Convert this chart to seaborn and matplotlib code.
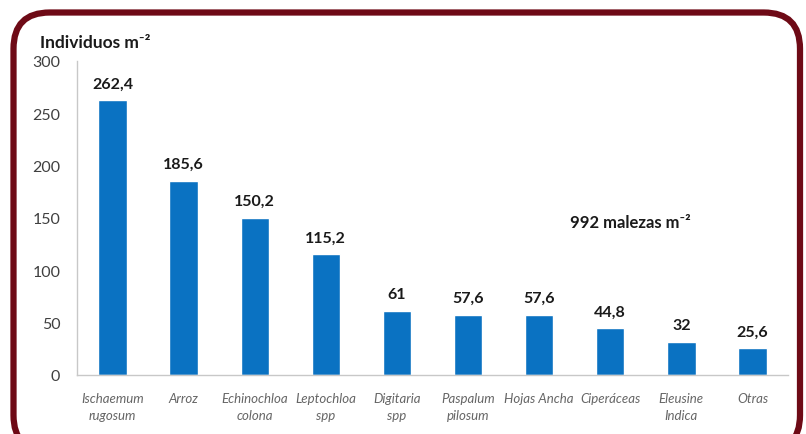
import matplotlib
matplotlib.use("Agg")
import matplotlib.pyplot as plt
from matplotlib.patches import FancyBboxPatch
import seaborn as sns
import pandas as pd

# Weed density by species group
categories = ["Ischaemum\nrugosum", "Arroz", "Echinochloa\ncolona", "Leptochloa\nspp",
              "Digitaria\nspp", "Paspalum\npilosum", "Hojas Ancha", "Ciperáceas",
              "Eleusine\nIndica", "Otras"]
values = [262.4, 185.6, 150.2, 115.2, 61, 57.6, 57.6, 44.8, 32, 25.6]
y_ticks = [0, 50, 100, 150, 200, 250, 300]
total_label = "992 malezas m⁻²"
y_title = "Individuos m⁻²"

sns.set_theme(style="white")
plt.rcParams["font.family"] = ["Lato", "DejaVu Sans"]

df = pd.DataFrame({"grupo": categories, "ind": values})

fig = plt.figure(figsize=(8.06, 4.35), dpi=100)
fig.patch.set_facecolor("white")

# Rounded dark-red frame around the chart
frame = FancyBboxPatch((13.5 / 806, -0.04), (800 - 13.5) / 806, 1 - 13.5 / 435 + 0.04,
                       boxstyle="round,pad=0,rounding_size=0.045",
                       transform=fig.transFigure, facecolor="none",
                       edgecolor="#6e0a16", linewidth=4.5, mutation_aspect=806 / 435)
fig.patches.append(frame)

ax = fig.add_axes([77 / 806, 1 - 376 / 435, (788 - 77) / 806, (376 - 62) / 435])
ax.set_facecolor("white")
sns.barplot(data=df, x="grupo", y="ind", color="#0a72c2", width=0.4,
            saturation=1, ax=ax)

ax.set_ylim(0, 300)
ax.set_xlim(-0.5, len(categories) - 0.5)
ax.set_yticks(y_ticks)
ax.set_yticklabels([str(t) for t in y_ticks], fontsize=11.5, color="#404040")
ax.set_xticks(range(len(categories)))
ax.set_xticklabels(categories, fontsize=9.5, color="#666666", style="italic",
                   linespacing=1.5, va="top")
ax.tick_params(axis="y", length=0, pad=12)
ax.tick_params(axis="x", length=0, pad=12)
ax.set_xlabel("")
ax.set_ylabel("")

for s in ["top", "right"]:
    ax.spines[s].set_visible(False)
for s in ["left", "bottom"]:
    ax.spines[s].set_color("#c8c8c8")
    ax.spines[s].set_linewidth(1.0)

for i, v in enumerate(values):
    lbl = f"{v:g}".replace(".", ",")
    ax.annotate(lbl, (i, v), xytext=(0, 7), textcoords="offset points",
                ha="center", va="bottom", fontsize=11.5, fontweight="bold",
                color="#1a1a1a")

fig.text(40 / 806, 1 - 43 / 435, y_title, fontsize=12.5, fontweight="bold",
         color="#1a1a1a", ha="left", va="center")
fig.text(630 / 806, 1 - 223 / 435, total_label, fontsize=12, fontweight="bold",
         color="#1a1a1a", ha="center", va="center")

fig.savefig("out.png", dpi=100, facecolor="white")
